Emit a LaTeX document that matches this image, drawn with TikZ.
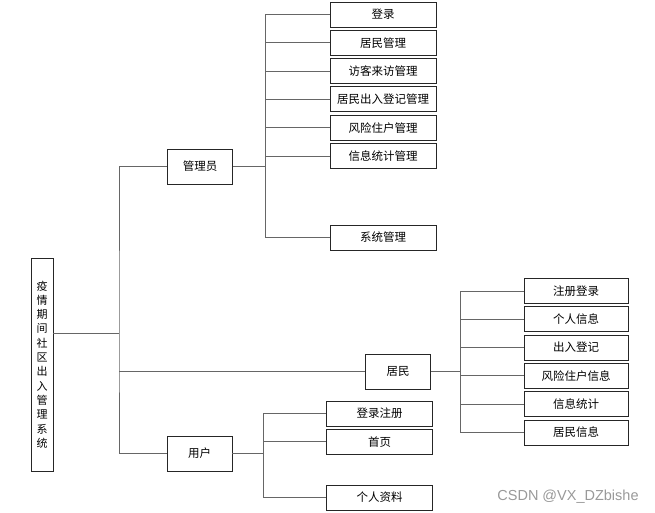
\documentclass[tikz,border=0pt]{standalone}
\usepackage{fontspec}
\setmainfont{Noto Sans CJK SC}
\newfontfamily\markfont{Liberation Sans}
\usetikzlibrary{positioning}

\begin{document}
\begin{tikzpicture}[x=1pt,y=-1pt,
            fun node/.style={draw=black!85,line width=0.8pt,fill=white,minimum width=106pt,minimum height=25pt,inner sep=0pt,font=\fontsize{11.5}{13}\selectfont},
            role node/.style={fun node,minimum width=65pt,minimum height=35pt},
            res node/.style={fun node,minimum width=104pt},
            sys node/.style={fun node,minimum width=22pt,minimum height=213pt,align=center,font=\fontsize{11}{14.3}\selectfont},
            link/.style={draw=black!60,line width=0.9pt}
            ]
            \useasboundingbox (0,0) rectangle (655,513);

            \node[sys node](root) at (42,364.5){疫\\情\\期\\间\\社\\区\\出\\入\\管\\理\\系\\统};

            \node[role node](adm) at (200,166.5){管理员};
            \node[role node](res) at (398,371.5){居民};
            \node[role node](usr) at (199.5,453.5){用户};

            % admin functions
            \node[fun node](a1) at (383,14.5){登录};
            \node[fun node](a2)[below=2.5pt of a1]{居民管理};
            \node[fun node](a3)[below=2.5pt of a2]{访客来访管理};
            \node[fun node](a4)[below=2.5pt of a3]{居民出入登记管理};
            \node[fun node](a5)[below=2.5pt of a4]{风险住户管理};
            \node[fun node](a6)[below=2.5pt of a5]{信息统计管理};
            \node[fun node](a7) at (383,237.5){系统管理};

            % resident functions
            \node[res node](r1) at (576,291){注册登录};
            \node[res node](r2)[below=2.5pt of r1]{个人信息};
            \node[res node](r3)[below=2.5pt of r2]{出入登记};
            \node[res node](r4)[below=2.5pt of r3]{风险住户信息};
            \node[res node](r5)[below=2.5pt of r4]{信息统计};
            \node[res node](r6)[below=2.5pt of r5]{居民信息};

            % user functions
            \node[fun node](u1) at (379.5,413.5){登录注册};
            \node[fun node](u2)[below=2.5pt of u1]{首页};
            \node[fun node](u3) at (379.5,497.5){个人资料};

            \node[text=black!40,font=\markfont\fontsize{14.5}{16}\selectfont](mark) at (568,497){CSDN @VX\_DZbishe};

            \coordinate (b0) at (119,333);
            \coordinate (b1) at (265,166.5);
            \coordinate (b2) at (460,371.5);
            \coordinate (b3) at (263,453.5);

            \draw[link] (b0) -- (b0 -| root.east);
            \draw[link] (adm.west) -| (b0) |- (usr.west);
            \draw[link] (b0 |- res.west) -- (res.west);

            \draw[link] (adm.east) -- (b1);
            \draw[link] (b1 |- a1.west) -- (b1 |- a7.west);
            \path[link]
            (b1 |- a1.west) edge (a1.west)
            (b1 |- a2.west) edge (a2.west)
            (b1 |- a3.west) edge (a3.west)
            (b1 |- a4.west) edge (a4.west)
            (b1 |- a5.west) edge (a5.west)
            (b1 |- a6.west) edge (a6.west)
            (b1 |- a7.west) edge (a7.west);

            \draw[link] (res.east) -- (b2);
            \draw[link] (b2 |- r1.west) -- (b2 |- r6.west);
            \path[link]
            (b2 |- r1.west) edge (r1.west)
            (b2 |- r2.west) edge (r2.west)
            (b2 |- r3.west) edge (r3.west)
            (b2 |- r4.west) edge (r4.west)
            (b2 |- r5.west) edge (r5.west)
            (b2 |- r6.west) edge (r6.west);

            \draw[link] (usr.east) -- (b3);
            \draw[link] (b3 |- u1.west) -- (b3 |- u3.west);
            \path[link]
            (b3 |- u1.west) edge (u1.west)
            (b3 |- u2.west) edge (u2.west)
            (b3 |- u3.west) edge (u3.west);

        \end{tikzpicture}
\end{document}
